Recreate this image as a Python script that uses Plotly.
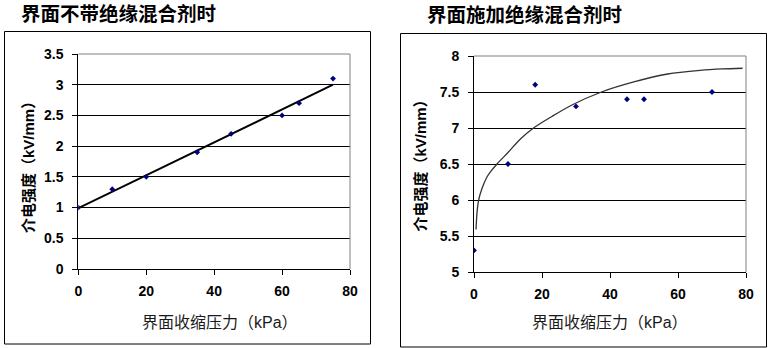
import plotly.graph_objects as go

W, H = 774, 348

# ---- data ----
left_x = [0, 10, 20, 35, 45, 60, 65, 75]
left_y = [1.0, 1.3, 1.5, 1.9, 2.2, 2.5, 2.7, 3.1]
left_trend_x = [0, 75]
left_trend_y = [0.99, 3.0]

right_x = [0, 10, 18, 30, 45, 50, 70]
right_y = [5.3, 6.5, 7.6, 7.3, 7.4, 7.4, 7.5]
right_trend_x = [0.59, 0.88, 1.37, 2.35, 3.82, 5.0, 6.76, 10.2, 13.5, 17.5, 22.9, 28.8, 37.5, 47, 57, 66.5, 73, 79]
right_trend_y = [5.59, 5.82, 6.0, 6.16, 6.32, 6.40, 6.5, 6.67, 6.84, 7.0, 7.16, 7.32, 7.5, 7.64, 7.75, 7.80, 7.82, 7.83]

left_title = "界面不带绝缘混合剂时"
right_title = "界面施加绝缘混合剂时"
x_title = "界面收缩压力（kPa）"
y_title = "介电强度（kV/mm）"

left_yticks = [0, 0.5, 1, 1.5, 2, 2.5, 3, 3.5]
right_yticks = [5, 5.5, 6, 6.5, 7, 7.5, 8]
xticks = [0, 20, 40, 60, 80]

FONT = "Liberation Sans, Arial, Noto Sans CJK SC"
CJK = "Liberation Sans, Noto Sans CJK SC"

def px(x):
    return x / W

def py(y):
    return 1 - y / H

L = dict(x0=78.3, x1=350, y0=54, y1=269)
R = dict(x0=474, x1=746, y0=56, y1=272)

fig = go.Figure()

marker = dict(symbol="diamond", size=4.5, color="#000080")

fig.add_trace(go.Scatter(x=left_trend_x, y=left_trend_y, mode="lines",
                         line=dict(color="black", width=2), xaxis="x", yaxis="y",
                         hoverinfo="skip"))
fig.add_trace(go.Scatter(x=left_x, y=left_y, mode="markers", marker=marker,
                         xaxis="x", yaxis="y"))
fig.add_trace(go.Scatter(x=right_trend_x, y=right_trend_y, mode="lines",
                         line=dict(color="#333333", width=1.3, shape="spline", smoothing=0.8),
                         xaxis="x2", yaxis="y2", hoverinfo="skip"))
fig.add_trace(go.Scatter(x=right_x, y=right_y, mode="markers", marker=marker,
                         xaxis="x2", yaxis="y2"))

tickfont = dict(family=FONT, size=14, color="black", weight="bold")

def xaxis(box, anchor):
    return dict(domain=[px(box["x0"]), px(box["x1"])], anchor=anchor,
                range=[0, 80], tickvals=xticks, showgrid=False, zeroline=False,
                showline=True, linecolor="black", linewidth=1,
                ticks="outside", ticklen=5, tickcolor="black",
                tickfont=tickfont, ticklabelstandoff=4, automargin=False)

def yaxis(box, anchor, rng, ticks):
    return dict(domain=[py(box["y1"]), py(box["y0"])], anchor=anchor,
                range=rng, tickvals=ticks, showgrid=True, gridcolor="black",
                gridwidth=1, zeroline=False, showline=True, linecolor="black",
                linewidth=1, ticks="outside", ticklen=5, tickcolor="black",
                tickfont=tickfont, ticklabelstandoff=6, automargin=False)

fig.update_layout(
    width=W, height=H, autosize=False,
    margin=dict(l=0, r=0, t=0, b=0, pad=0, autoexpand=False),
    paper_bgcolor="white", plot_bgcolor="white", showlegend=False,
    xaxis=xaxis(L, "y"), yaxis=yaxis(L, "x", [0, 3.5], left_yticks),
    xaxis2=xaxis(R, "y2"), yaxis2=yaxis(R, "x2", [5, 8], right_yticks),
)

shapes = []
shapes.append(dict(type="rect", xref="paper", yref="paper",
                   x0=px(4.5), x1=px(370.5), y0=py(344), y1=py(31.5),
                   line=dict(color="black", width=1)))
shapes.append(dict(type="rect", xref="paper", yref="paper",
                   x0=px(400.5), x1=px(766.5), y0=py(347), y1=py(33.5),
                   line=dict(color="black", width=1)))
for b in (L, R):
    shapes.append(dict(type="line", xref="paper", yref="paper", layer="above",
                       x0=px(b["x0"]), x1=px(b["x1"]), y0=py(b["y0"]), y1=py(b["y0"]),
                       line=dict(color="#808080", width=1)))
    shapes.append(dict(type="line", xref="paper", yref="paper", layer="above",
                       x0=px(b["x1"]), x1=px(b["x1"]), y0=py(b["y0"]), y1=py(b["y1"]),
                       line=dict(color="#808080", width=1)))
fig.update_layout(shapes=shapes)

ann = []
ann.append(dict(text=left_title, x=px(19), y=py(14), xref="paper", yref="paper",
                xanchor="left", yanchor="middle", showarrow=False,
                font=dict(family=CJK, size=19.5, color="black", weight="bold")))
ann.append(dict(text=right_title, x=px(425), y=py(15), xref="paper", yref="paper",
                xanchor="left", yanchor="middle", showarrow=False,
                font=dict(family=CJK, size=19.5, color="black", weight="bold")))
for cx, cy in ((220, 322.5), (610, 322.5)):
    ann.append(dict(text=x_title, x=px(cx), y=py(cy), xref="paper", yref="paper",
                    xanchor="center", yanchor="middle", showarrow=False,
                    font=dict(family=CJK, size=16, color="#1a1a1a")))
for cx, cy in ((28, 164), (420, 162.5)):
    ann.append(dict(text=y_title, x=px(cx), y=py(cy), xref="paper", yref="paper",
                    xanchor="center", yanchor="middle", showarrow=False, textangle=-90,
                    font=dict(family=CJK, size=15, color="black", weight="bold")))
fig.update_layout(annotations=ann)

fig.write_html("out.html")
